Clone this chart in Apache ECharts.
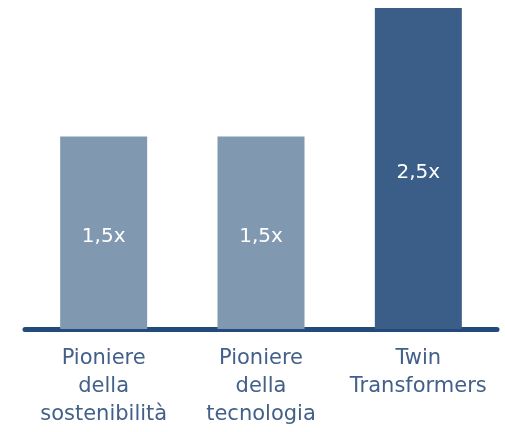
<!DOCTYPE html>
<html>
<head>
<meta charset="utf-8">
<script src="https://cdn.jsdelivr.net/npm/echarts@6/dist/echarts.min.js"></script>
<style>
  html, body { margin: 0; padding: 0; background: #fff; }
  #chart { width: 505px; height: 432px; }
</style>
</head>
<body>
<div id="chart"></div>
<script>
// categorie e valori (moltiplicatore)
var categories = ['Pioniere\ndella\nsostenibilità', 'Pioniere\ndella\ntecnologia', 'Twin\nTransformers'];
var values = [1.5, 1.5, 2.5];
var barColors = ['#8198b1', '#8198b1', '#3b5e88'];

var myChart = echarts.init(document.getElementById('chart'));

var data = values.map(function (v, i) {
	return { value: v, itemStyle: { color: barColors[i] } };
});

var option = {
	animation: false,
	grid: { left: 25, right: 8, top: 8, bottom: 103, containLabel: false },
	xAxis: {
		type: 'category',
		data: categories,
		axisLine: { show: true, lineStyle: { color: '#224b7b', width: 5 } },
		axisTick: { show: false },
		axisLabel: {
			interval: 0,
			hideOverlap: false,
			color: '#42608a',
			fontFamily: 'DejaVu Sans',
			fontSize: 21,
			lineHeight: 28,
			margin: 16
		}
	},
	yAxis: {
		type: 'value',
		min: 0,
		max: 2.5,
		show: false,
		splitLine: { show: false }
	},
	series: [
		{
			type: 'bar',
			data: data,
			barWidth: 87,
			label: {
				show: true,
				position: 'inside',
				offset: [0, 4],
				color: '#ffffff',
				fontFamily: 'DejaVu Sans',
				fontSize: 20,
				fontWeight: 500,
				formatter: function (p) {
					return String(p.value).replace('.', ',') + 'x';
				}
			}
		}
	]
};
myChart.setOption(option);
</script>
</body>
</html>
